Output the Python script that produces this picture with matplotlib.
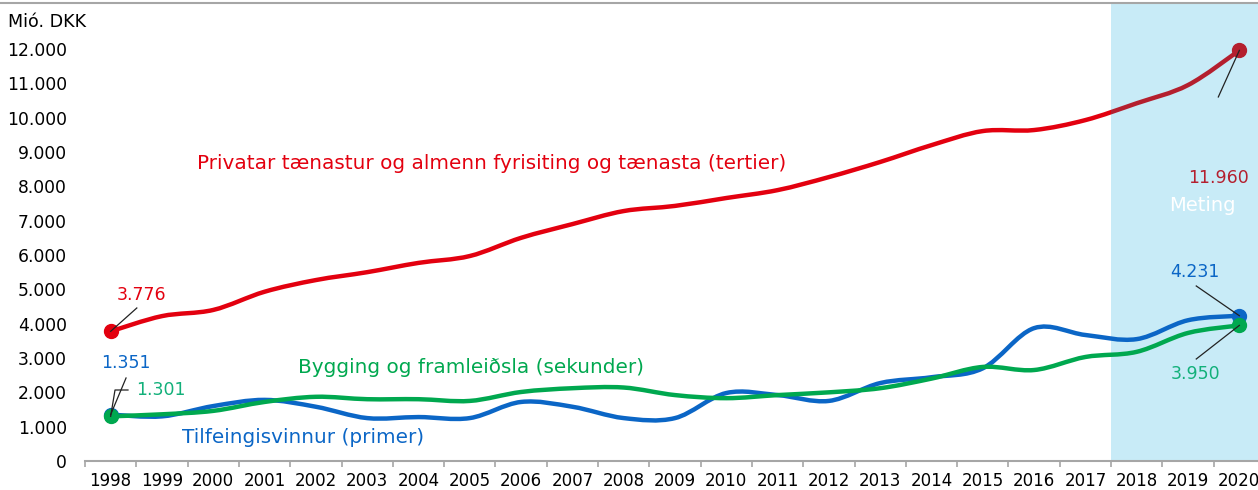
import matplotlib
matplotlib.use('Agg')
import matplotlib.pyplot as plt
from matplotlib.path import Path
from matplotlib.patches import PathPatch, Rectangle
from matplotlib.lines import Line2D
import numpy as np

plt.rcParams['font.family'] = ['DejaVu Sans']

years = list(range(1998, 2021))
tertier = [3776, 4220, 4400, 4930, 5270, 5500, 5770, 5970, 6500, 6900, 7280, 7430,
           7660, 7890, 8270, 8710, 9200, 9610, 9640, 9930, 10420, 10950, 11960]
primer = [1351, 1300, 1600, 1780, 1580, 1250, 1280, 1250, 1720, 1580, 1250, 1250,
          1980, 1920, 1750, 2270, 2440, 2700, 3870, 3670, 3550, 4100, 4231]
sekunder = [1301, 1360, 1460, 1720, 1870, 1800, 1800, 1750, 2010, 2120, 2140, 1920,
            1830, 1920, 2000, 2120, 2400, 2740, 2650, 3030, 3180, 3730, 3950]

RED = '#E3000F'
DARKRED = '#B41F2E'
BLUE = '#0B66C6'
GREEN = '#00A84F'
GREEN_TXT = '#12B07A'
SHADE = '#C8EBF7'
GREY = '#A6A6A6'


def smooth_path(xs, ys):
    """Excel-like smoothed line as cubic bezier path"""
    pts = np.column_stack([xs, ys]).astype(float)
    n = len(pts)
    verts = [pts[0]]
    codes = [Path.MOVETO]
    for i in range(n - 1):
        p0 = pts[i - 1] if i > 0 else pts[i]
        p1 = pts[i]
        p2 = pts[i + 1]
        p3 = pts[i + 2] if i + 2 < n else pts[i + 1]
        c1 = p1 + (p2 - p0) / 6.0
        c2 = p2 - (p3 - p1) / 6.0
        verts += [c1, c2, p2]
        codes += [Path.CURVE4] * 3
    return Path(verts, codes)


fig = plt.figure(figsize=(12.58, 4.90), dpi=100)
ax = fig.add_axes([85 / 1258, 1 - 461 / 490, 1180 / 1258, 458 / 490])
x = np.arange(len(years))
ax.set_xlim(-0.5, len(years) - 0.5)
ax.set_ylim(0, 13340)

# Meting (forecast) shade
ax.axvspan(19.5, len(years) - 0.5, color=SHADE, zorder=0, lw=0)
ax.text(21.27, 7428, 'Meting', color='white', fontsize=14, ha='center', va='center')

lw = 3.2
# red line: bright before shade, darker inside shade
for col, clip in [(RED, Rectangle((-0.5, 0), 20, 13340)),
                  (DARKRED, Rectangle((19.5, 0), 5, 13340))]:
    p = PathPatch(smooth_path(x, tertier), fill=False, edgecolor=col, lw=lw,
                  capstyle='round', joinstyle='round', zorder=3)
    ax.add_patch(p)
    clip.set_transform(ax.transData)
    p.set_clip_path(clip)

ax.add_patch(PathPatch(smooth_path(x, primer), fill=False, edgecolor=BLUE, lw=lw,
                       capstyle='round', joinstyle='round', zorder=3))
ax.add_patch(PathPatch(smooth_path(x, sekunder), fill=False, edgecolor=GREEN, lw=lw,
                       capstyle='round', joinstyle='round', zorder=4))

# end markers
ax.plot(x[0], tertier[0], 'o', color=RED, ms=10, zorder=5)
ax.plot(x[-1], tertier[-1], 'o', color=DARKRED, ms=10, zorder=5)
ax.plot(x[0], primer[0], 'o', color=BLUE, ms=10, zorder=5)
ax.plot(x[-1], primer[-1], 'o', color=BLUE, ms=10, zorder=5)
ax.plot(x[0], sekunder[0], 'o', color=GREEN, ms=10, zorder=6)
ax.plot(x[-1], sekunder[-1], 'o', color=GREEN, ms=10, zorder=6)


def fmt(v):
    return f'{v:,}'.replace(',', '.')


# value labels with leader lines
ax.text(0.61, 4835, fmt(tertier[0]), color=RED, fontsize=12.5, ha='center', va='center')
ax.plot([x[0], 0.51], [tertier[0], 4457], color='#222222', lw=0.9, zorder=7)
ax.text(0.30, 2855, fmt(primer[0]), color=BLUE, fontsize=12.5, ha='center', va='center')
ax.plot([x[0], 0.30], [primer[0], 2418], color='#222222', lw=0.9, zorder=7)
ax.text(0.98, 2068, fmt(sekunder[0]), color=GREEN_TXT, fontsize=12.5, ha='center', va='center')
ax.plot([x[0], 0.085, 0.338], [sekunder[0], 2068, 2068], color='#222222', lw=0.9, zorder=7)

ax.text(21.59, 8244, fmt(tertier[-1]), color=DARKRED, fontsize=12.5, ha='center', va='center')
ax.plot([x[-1], 21.59], [tertier[-1], 10603], color='#222222', lw=0.9, zorder=7)
ax.text(21.14, 5506, fmt(primer[-1]), color=BLUE, fontsize=12.5, ha='center', va='center')
ax.plot([x[-1], 21.16], [primer[-1], 5098], color='#222222', lw=0.9, zorder=7)
ax.text(21.14, 2534, fmt(sekunder[-1]), color=GREEN_TXT, fontsize=12.5, ha='center', va='center')
ax.plot([x[-1], 21.16], [sekunder[-1], 2971], color='#222222', lw=0.9, zorder=7)

# series names
ax.text(1.68, 8652, 'Privatar tænastur og almenn fyrisiting og tænasta (tertier)',
        color=RED, fontsize=14.4, ha='left', va='center')
ax.text(3.65, 2709, 'Bygging og framleiðsla (sekunder)', color=GREEN,
        fontsize=14.4, ha='left', va='center')
ax.text(1.39, 699, 'Tilfeingisvinnur (primer)', color=BLUE, fontsize=14.4,
        ha='left', va='center')

# axes styling
for s in ['left', 'right', 'top']:
    ax.spines[s].set_visible(False)
ax.spines['bottom'].set_color(GREY)
ax.spines['bottom'].set_linewidth(1.5)

ax.set_xticks(np.arange(-0.5, len(years), 1.0))
ax.set_xticklabels([])
ax.tick_params(axis='x', which='major', length=4, width=1.2, color=GREY, direction='out')
ax.set_xticks(x, minor=True)
ax.set_xticklabels([str(y) for y in years], minor=True)
ax.tick_params(axis='x', which='minor', length=0, labelsize=12, pad=8)

yt = list(range(0, 13000, 1000))
ax.set_yticks(yt)
ax.set_yticklabels([fmt(v) for v in yt])
ax.tick_params(axis='y', length=0, labelsize=12.3, pad=13)

fig.text(8 / 1258, 1 - 22 / 490, 'Mió. DKK', fontsize=12.6, ha='left', va='center')
fig.add_artist(Line2D([0, 1], [1 - 3 / 490, 1 - 3 / 490], color=GREY, lw=1.5,
                      transform=fig.transFigure))

fig.savefig('out.png', dpi=100, facecolor='white')
